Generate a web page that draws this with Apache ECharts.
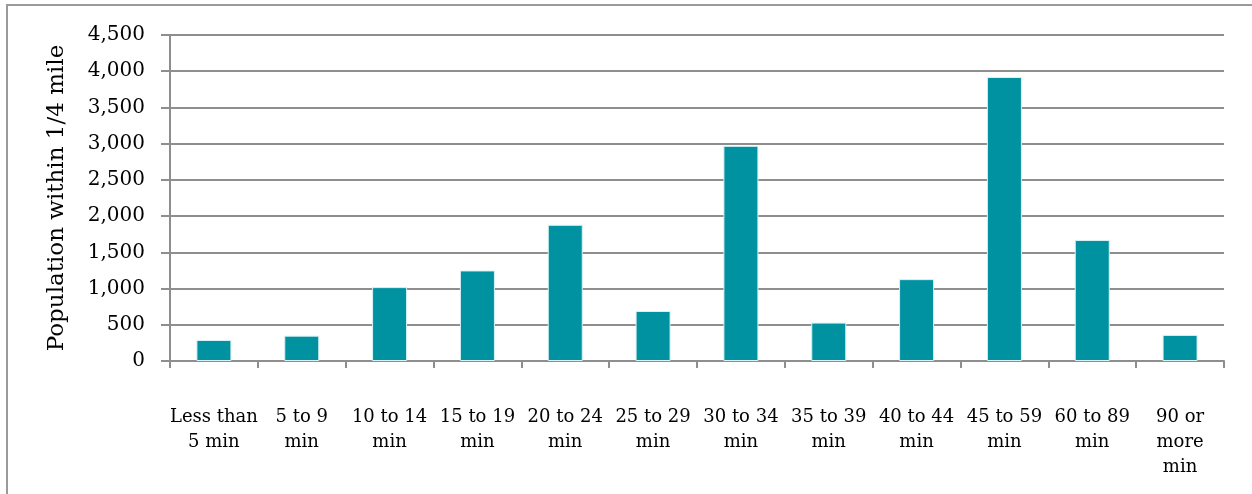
<!DOCTYPE html>
<html>
<head>
<meta charset="utf-8">
<script src="https://cdn.jsdelivr.net/npm/echarts@6/dist/echarts.min.js"></script>
<style>
  html, body { margin: 0; padding: 0; background: #fff; overflow: hidden; }
  #chart { width: 1252px; height: 494px; }
</style>
</head>
<body>
<div id="chart"></div>
<script>
// Commute time bands (tick labels, wrapped as shown under the axis)
const categories = [
  'Less than\n5 min', '5 to 9\nmin', '10 to 14\nmin', '15 to 19\nmin',
  '20 to 24\nmin', '25 to 29\nmin', '30 to 34\nmin', '35 to 39\nmin',
  '40 to 44\nmin', '45 to 59\nmin', '60 to 89\nmin', '90 or\nmore\nmin'
];

// Residents within a quarter mile, per commute band
const population = [290, 350, 1020, 1250, 1880, 690, 2970, 530, 1130, 3920, 1670, 360];

const axisTitle = 'Population within 1/4 mile';
const yMin = 0;
const yMax = 4500;
const yStep = 500;

const FONT = 'DejaVu Serif';
const GRID_GRAY = '#8e8e8e';

const chart = echarts.init(document.getElementById('chart'), null, { renderer: 'canvas' });

chart.setOption({
  animation: false,
  backgroundColor: '#ffffff',
  grid: { left: 170, right: 28, top: 35, bottom: 133, containLabel: false },
  graphic: [
    {
      // outer frame: top and left edges of the chart area
      type: 'polyline',
      silent: true,
      shape: { points: [[7, 1000], [7, 5], [2000, 5]] },
      style: { stroke: '#9a9a9a', lineWidth: 2, fill: null }
    }
  ],
  xAxis: {
    type: 'category',
    data: categories,
    boundaryGap: true,
    axisLine: { show: true, lineStyle: { color: GRID_GRAY, width: 2 } },
    axisTick: { show: true, length: 7, alignWithLabel: false, lineStyle: { color: GRID_GRAY, width: 2 } },
    axisLabel: {
      interval: 0,
      margin: 44,
      color: '#000',
      fontFamily: FONT,
      fontSize: 18,
      lineHeight: 25,
      align: 'center'
    },
    splitLine: { show: false }
  },
  yAxis: {
    type: 'value',
    min: yMin,
    max: yMax,
    interval: yStep,
    name: axisTitle,
    nameLocation: 'middle',
    nameGap: 101,
    nameRotate: 90,
    nameTextStyle: { color: '#000', fontFamily: FONT, fontSize: 23 },
    axisLine: { show: true, lineStyle: { color: GRID_GRAY, width: 2 } },
    axisTick: { show: true, length: 9, inside: false, lineStyle: { color: GRID_GRAY, width: 2 } },
    axisLabel: {
      margin: 25,
      color: '#000',
      fontFamily: FONT,
      fontSize: 20,
      formatter: v => v.toLocaleString('en-US')
    },
    splitLine: { show: true, lineStyle: { color: GRID_GRAY, width: 2 } }
  },
  series: [
    {
      type: 'bar',
      data: population,
      barWidth: 35,
      itemStyle: { color: '#0092a0', borderColor: '#d8f1f3', borderWidth: 1 }
    }
  ]
});
</script>
</body>
</html>
